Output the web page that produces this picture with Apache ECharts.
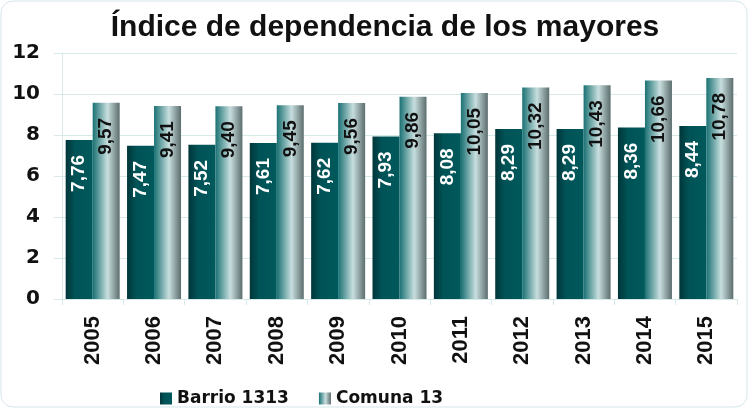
<!DOCTYPE html>
<html>
<head>
<meta charset="utf-8">
<script src="https://cdn.jsdelivr.net/npm/echarts@6/dist/echarts.min.js"></script>
<style>
  html, body { margin: 0; padding: 0; background: #fff; }
  #chart { width: 750px; height: 410px; }
</style>
</head>
<body>
<div id="chart"></div>
<script>
// datos
var years = ['2005', '2006', '2007', '2008', '2009', '2010', '2011', '2012', '2013', '2014', '2015'];
var barrio = [7.76, 7.47, 7.52, 7.61, 7.62, 7.93, 8.08, 8.29, 8.29, 8.36, 8.44];
var comuna = [9.57, 9.41, 9.40, 9.45, 9.56, 9.86, 10.05, 10.32, 10.43, 10.66, 10.78];
var seriesNames = ['Barrio 1313', 'Comuna 13'];

var font = 'Liberation Sans, Arial, sans-serif';
var wide = 'DejaVu Sans, sans-serif'; // mas ancha, como el original
var gridColor = '#d6eaea';

function fmt(p) {
  return p.value.toFixed(2).replace('.', ',');
}

var myChart = echarts.init(document.getElementById('chart'));
myChart.setOption({
  animation: false,
  graphic: [{
    type: 'rect',
    shape: { x: 1, y: 1, width: 746, height: 406, r: 12 },
    style: { fill: 'none', stroke: '#d3e6ea', lineWidth: 1 },
    z: -1
  }],
  title: {
    text: 'Índice de dependencia de los mayores',
    left: 380,
    textAlign: 'center',
    top: 8,
    textStyle: { fontFamily: font, fontSize: 30, fontWeight: 'bold', color: '#111' }
  },
  grid: { left: 62, right: 13, top: 53, bottom: 111 },
  legend: {
    data: seriesNames,
    left: 155,
    top: 385,
    itemWidth: 12,
    itemHeight: 12,
    itemGap: 30,
    icon: 'rect',
    textStyle: { fontFamily: wide, fontSize: 17, fontWeight: 'bold', color: '#111' }
  },
  xAxis: {
    type: 'category',
    data: years,
    axisLine: { lineStyle: { color: gridColor } },
    axisTick: { show: true, length: 6, lineStyle: { color: gridColor } },
    axisLabel: {
      rotate: 90,
      margin: 17,
      fontFamily: font,
      fontSize: 22,
      fontWeight: 'bold',
      color: '#111'
    }
  },
  yAxis: {
    type: 'value',
    min: 0,
    max: 12,
    interval: 2,
    axisLine: { show: true, lineStyle: { color: gridColor } },
    axisTick: { show: true, length: 8, lineStyle: { color: gridColor } },
    splitLine: { lineStyle: { color: gridColor } },
    axisLabel: {
      margin: 22,
      fontFamily: wide,
      fontSize: 20,
      fontWeight: 'bold',
      color: '#111'
    }
  },
  series: [
    {
      name: seriesNames[0],
      type: 'bar',
      data: barrio,
      barGap: '0%',
      barCategoryGap: '12%',
      itemStyle: {
        color: new echarts.graphic.LinearGradient(0, 0, 1, 0, [
          { offset: 0, color: '#00363a' },
          { offset: 0.35, color: '#005356' },
          { offset: 1, color: '#00595c' }
        ])
      },
      label: {
        show: true,
        position: 'insideTop',
        distance: 15,
        rotate: 90,
        align: 'right',
        verticalAlign: 'middle',
        formatter: fmt,
        fontFamily: font,
        fontSize: 19,
        fontWeight: 'bold',
        color: '#fff'
      }
    },
    {
      name: seriesNames[1],
      type: 'bar',
      data: comuna,
      itemStyle: {
        color: new echarts.graphic.LinearGradient(0, 0, 1, 0, [
          { offset: 0, color: '#1a7173' },
          { offset: 0.55, color: '#c8dede' },
          { offset: 1, color: '#5c6d6e' }
        ])
      },
      label: {
        show: true,
        position: 'insideTop',
        distance: 15,
        rotate: 90,
        align: 'right',
        verticalAlign: 'middle',
        formatter: fmt,
        fontFamily: font,
        fontSize: 19,
        fontWeight: 'bold',
        color: '#111'
      }
    }
  ]
});
</script>
</body>
</html>
